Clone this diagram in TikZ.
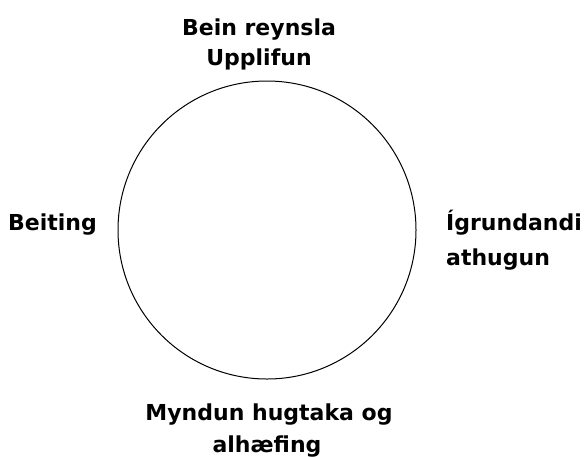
\documentclass[tikz,border=0pt]{standalone}
\usepackage{fontspec}
\setmainfont{DejaVu Sans}
\begin{document}
\begin{tikzpicture}[x=1pt,y=-1pt,
  lbl/.style={font=\bfseries\fontsize{22}{32}\selectfont, inner sep=0pt, anchor=base},
  ring/.style={draw=black, line width=1pt}]
\useasboundingbox (0,0) rectangle (585,456);
\node[ring, circle, minimum size=298pt, inner sep=0pt] (c) at (267,230) {};
\node[lbl] (top1) at (259,35) {Bein reynsla};
\node[lbl] (top2) at (259,65) {Upplifun};
\node[lbl, anchor=base west] (left) at (8,230) {Beiting};
\node[lbl, anchor=base west] (right1) at (446,230) {Ígrundandi};
\node[lbl, anchor=base west] (right2) at (446,265) {athugun};
\node[lbl] (bot1) at (269,420) {Myndun hugtaka og};
\node[lbl] (bot2) at (267,452) {alhæfing};
\end{tikzpicture}
\end{document}
